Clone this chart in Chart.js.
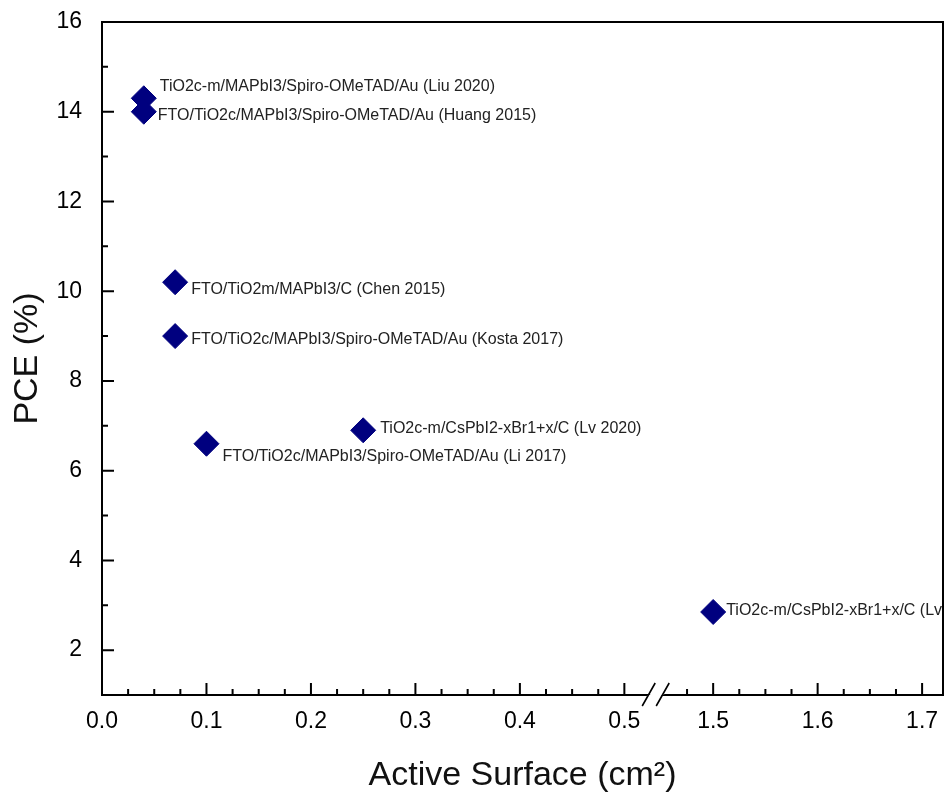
<!DOCTYPE html>
<html>
<head>
<meta charset="utf-8">
<title>PCE vs active surface</title>
<script src="https://cdn.jsdelivr.net/npm/chart.js@4.4.1/dist/chart.umd.min.js"></script>
<style>
  html, body { margin: 0; padding: 0; background: #fff; }
</style>
</head>
<body>
<canvas id="pceChart" width="945" height="802"></canvas>
<script>
// data
const surfaces = [0.04, 0.04, 0.07, 0.07, 0.10, 0.25, 1.50];
const pceValues = [14.3, 14.0, 10.2, 9.0, 6.6, 6.9, 2.85];
const deviceLabels = [
    'TiO2c-m/MAPbI3/Spiro-OMeTAD/Au (Liu 2020)',
    'FTO/TiO2c/MAPbI3/Spiro-OMeTAD/Au (Huang 2015)',
    'FTO/TiO2m/MAPbI3/C (Chen 2015)',
    'FTO/TiO2c/MAPbI3/Spiro-OMeTAD/Au (Kosta 2017)',
    'FTO/TiO2c/MAPbI3/Spiro-OMeTAD/Au (Li 2017)',
    'TiO2c-m/CsPbI2-xBr1+x/C (Lv 2020)',
    'TiO2c-m/CsPbI2-xBr1+x/C (Lv 2020)'
];
const xTickValues = [0.0, 0.1, 0.2, 0.3, 0.4, 0.5, 1.5, 1.6, 1.7];
const yTickValues = [2, 4, 6, 8, 10, 12, 14, 16];

// broken x axis: everything past the break is shifted left by GAP
const BREAK_START = 0.53;
const BREAK_END = 1.445;
const GAP = BREAK_END - BREAK_START;
const X_MAX = 1.72;
const toAxis = v => (v > BREAK_START ? v - GAP : v);
const fromAxis = v => (v > BREAK_START + 1e-9 ? v + GAP : v);

// where each label sits relative to its marker (px)
const labelOffsets = [[16, -12], [14, 4], [16, 7], [16, 4], [16, 13], [17, -2], [13, -1]];

const FONT = "'Liberation Sans', Arial, sans-serif";

// keep the plot box exactly where the figure has it
const noScalePadding = scale => {
    scale.paddingTop = 0;
    scale.paddingBottom = 0;
    scale.paddingLeft = 0;
    scale.paddingRight = 0;
};

const decorPlugin = {
    id: 'decor',
    afterDatasetsDraw(chart) {
        const { ctx, chartArea: a, scales: { x, y } } = chart;
        const meta = chart.getDatasetMeta(0);

        // point labels, clipped to the plot box
        ctx.save();
        ctx.beginPath();
        ctx.rect(a.left, a.top, a.right - a.left, a.bottom - a.top);
        ctx.clip();
        ctx.font = '16px ' + FONT;
        ctx.fillStyle = '#222';
        ctx.textAlign = 'left';
        ctx.textBaseline = 'middle';
        meta.data.forEach((pt, i) => {
            const [dx, dy] = labelOffsets[i];
            ctx.fillText(deviceLabels[i], pt.x + dx, pt.y + dy);
        });
        ctx.restore();

        ctx.save();
        ctx.strokeStyle = '#000';
        ctx.lineWidth = 2;

        // ticks, pointing inward
        ctx.lineCap = 'butt';
        ctx.beginPath();
        yTickValues.forEach((v, i) => {
            const py = y.getPixelForValue(v);
            ctx.moveTo(a.left, py); ctx.lineTo(a.left + 12, py);
            if (i > 0) {
                const pm = y.getPixelForValue((v + yTickValues[i - 1]) / 2);
                ctx.moveTo(a.left, pm); ctx.lineTo(a.left + 6, pm);
            }
        });
        for (let k = 1; k * 0.025 <= X_MAX; k++) {
            const r = k * 0.025;
            if (r > 0.515 && r < 1.46) continue;
            const px = x.getPixelForValue(toAxis(r));
            const len = (k % 4 === 0) ? 12 : 6;
            ctx.moveTo(px, a.bottom); ctx.lineTo(px, a.bottom - len);
        }
        ctx.stroke();

        // frame
        ctx.lineCap = 'square';
        ctx.beginPath();
        ctx.moveTo(a.left, a.bottom);
        ctx.lineTo(a.left, a.top);
        ctx.lineTo(a.right, a.top);
        ctx.lineTo(a.right, a.bottom);
        ctx.lineTo(a.left, a.bottom);
        ctx.stroke();

        // axis break marks
        const bx = x.getPixelForValue(BREAK_START);
        const by = a.bottom;
        ctx.fillStyle = '#fff';
        ctx.beginPath();
        ctx.moveTo(bx - 7 + 6, by - 3);
        ctx.lineTo(bx + 7 + 6, by - 3);
        ctx.lineTo(bx + 7 - 6, by + 3);
        ctx.lineTo(bx - 7 - 6, by + 3);
        ctx.closePath();
        ctx.fill();
        ctx.lineCap = 'butt';
        ctx.lineWidth = 1.6;
        ctx.beginPath();
        [-7, 7].forEach(off => {
            ctx.moveTo(bx + off + 6.5, by - 12);
            ctx.lineTo(bx + off - 6.5, by + 11);
        });
        ctx.stroke();
        ctx.restore();
    }
};

new Chart(document.getElementById('pceChart'), {
    type: 'scatter',
    data: {
        datasets: [{
            label: 'PCE',
            data: surfaces.map((s, i) => ({ x: toAxis(s), y: pceValues[i] })),
            pointStyle: 'rectRot',
            pointRadius: 12.5,
            pointHoverRadius: 12.5,
            backgroundColor: '#00007f',
            borderColor: '#00007f',
            borderWidth: 1
        }]
    },
    options: {
        responsive: false,
        animation: false,
        layout: { autoPadding: false, padding: { top: 22, right: 2, left: 0, bottom: 0 } },
        plugins: { legend: { display: false }, tooltip: { enabled: false } },
        scales: {
            x: {
                type: 'linear',
                min: 0,
                max: toAxis(X_MAX),
                afterBuildTicks: scale => {
                    scale.ticks = xTickValues.map(v => ({ value: toAxis(v) }));
                },
                afterFit: scale => {
                    scale.height = 107;
                    noScalePadding(scale);
                },
                grid: { display: false, drawTicks: false, tickLength: 0 },
                border: { display: false },
                ticks: {
                    padding: 13,
                    color: '#000',
                    font: { family: FONT, size: 23 },
                    maxRotation: 0,
                    autoSkip: false,
                    callback: v => fromAxis(v).toFixed(1)
                },
                title: {
                    display: true,
                    text: 'Active Surface (cm²)',
                    color: '#111',
                    font: { family: FONT, size: 34 },
                    padding: { top: 0, bottom: 6 }
                }
            },
            y: {
                min: 1,
                max: 16,
                afterBuildTicks: scale => {
                    scale.ticks = yTickValues.map(v => ({ value: v }));
                },
                afterFit: scale => {
                    scale.width = 102;
                    noScalePadding(scale);
                },
                grid: { display: false, drawTicks: false, tickLength: 0 },
                border: { display: false },
                ticks: {
                    padding: 20,
                    color: '#000',
                    font: { family: FONT, size: 23 }
                },
                title: {
                    display: true,
                    text: 'PCE (%)',
                    color: '#111',
                    font: { family: FONT, size: 34 },
                    padding: { top: 7, bottom: 0 }
                }
            }
        }
    },
    plugins: [decorPlugin]
});
</script>
</body>
</html>
